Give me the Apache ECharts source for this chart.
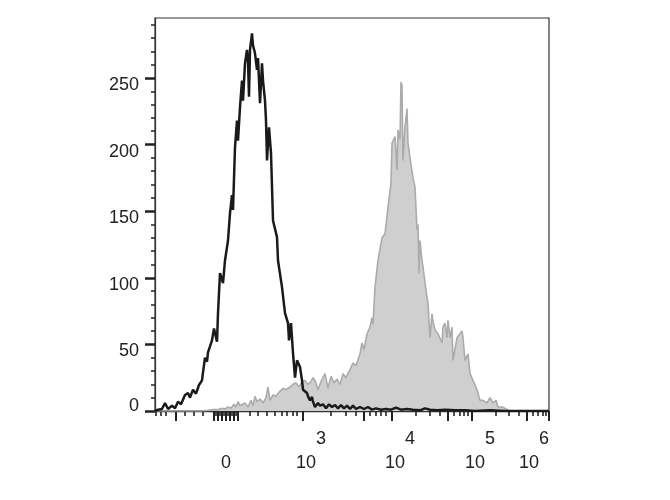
<!DOCTYPE html>
<html>
<head>
<meta charset="utf-8">
<script src="https://cdn.jsdelivr.net/npm/echarts@6/dist/echarts.min.js"></script>
<style>html,body{margin:0;padding:0;background:#fff}#c{width:670px;height:500px}</style>
</head>
<body>
<div id="c"></div>
<script>
// Channel positions (display scale units, 0..394) and event counts
const ctrlX = [0,3,7,10,13,17,20,23,26,30,33,35,38,41,44,47,48,50,52,53,57,59,62,63,65,66.5,68,70,73,75,77,78,80,82,83,85,87,88,90,92,93,94,95,97,98,100,102,103,105,107,108,110,111,112,114,116,118,120,122,123,127,130,133,134,136,138,140,142,143,145,147,148,150,152,153,155,157,158,160,163,165,168,171,174,177,180,183,186,189,192,195,198,201,205,209,213,217,221,226,231,236,241,246,252,258,265,270,275,282,290,300,310,320,335,350,394];
const ctrlY = [0,1,1.5,6,1.5,4,2,7,5,12,13.5,10,16,13,19.5,23,29,40,37,44,53,62,52,73.5,103.5,100,96,113,128,148.5,162,151,198,218,203,228,248,233,261,271,263,236,271,283.5,274.5,268.5,256,265,231,261,248,233,218,188,213,193.5,143,142,130.5,113,93,73.5,66,53,66,43.5,25,38,37,33,23,16,17,13.5,11,8,10.5,7,3,6,4,5,2,5,3,4.5,2,4.5,2,4,1.5,4,1.5,3,1.5,3,1,2,1,1.5,1,2.5,1,1.5,1,0.5,2,1,0.5,1,0.5,0.5,0,0.5,0,0];

const stainX = [0,45,53,58,63,67,70,73,76,79,81,83,85,87,90,93,96,98,100,102,105,108,111,113,115,118,121,124,128,131,135,138,141,144,147,150,153,156,158,160,163,166,170,173,176,179,182,185,188,191,195,198,201,205,207,209,212,215,217,218,220,223,227,230,233,236,237,240,242,243,245,246,247,248,250,252,253,255,258,260,262,263,264,265,267,268,272,273,275,277,278,280,283,287,288,290,292,293,295,297,298,302,305,307,308,310,313,315,318,322,325,328,332,335,338,341,343,347,350,355,394];
const stainY = [0,0,0.5,1,1,2,1.5,3,2,5,3,7,4,3,6,3,8,4,11,7,9,6,10,18,8,12,11,14,17,16,18,20,21,18,22,23,20,22,25,23,16,22,28,17,26,21,24,20,28,25,31,36,34,43,51,46,58,63,70,65,93,113,130,133,153,171,201,206,181,211,204,247,244,188,213,227,201,190,175,168,136,140,103,128,113,108,85,81,55,73,67,61,58,51,63,66,55,68,55,63,38,55,58,60,55,38,43,28,23,16,8,8,6,10,6,8,3,3,2,0,0];

// Axis ticks and labels
const xMajorTicks = [21,59,63,67,71,75,79,83,148,208.5,237,293,317,371.5,394];
const xMinorTicks = [1,6,11,30,39,48,61,65,69,73,77,81,95,103,112,120,127,132,138,142,176,191,201,215,220.5,226,230.5,261,275,285,299,305,309,313,340.5,354,364,378,383,387.5,391];
const xLabelPos = [71,148,237,317,394];
const xLabelExp = ['0','3','4','5','6'];
const yMajor = [0,50,100,150,200,250];
const yMinor = [10,20,30,40,60,70,80,90,110,120,130,140,160,170,180,190,210,220,230,240,260,270,280,290];

const X_MAX = 394, Y_MAX = 295;
const FONT = 'Liberation Sans, Arial, sans-serif';

const zip = (a, b) => a.map((v, i) => [v, b[i]]);

const chart = echarts.init(document.getElementById('c'), null, {renderer: 'canvas'});

function xLabelFmt(v) {
  const i = xLabelPos.findIndex(p => Math.abs(p - v) < 0.01);
  if (i < 0) return '';
  const e = xLabelExp[i];
  if (i === 0) return '{z|0}';
  if (i === xLabelPos.length - 1) return '{bl|10}{sr|' + e + '}';
  return '{b|10}{s|' + e + '}';
}

const supStyle = {fontSize: 18, fontFamily: FONT, color: '#222', verticalAlign: 'top', padding: [0,0,24,0]};
const baseStyle = {fontSize: 18, fontFamily: FONT, color: '#222', verticalAlign: 'bottom'};

chart.setOption({
  animation: false,
  grid: {left: 155, right: 121, top: 18, bottom: 89, show: true, borderColor: '#333', borderWidth: 1.2, backgroundColor: 'transparent'},
  xAxis: [
    {type: 'value', min: 0, max: X_MAX, position: 'bottom', offset: 0,
     axisLine: {show: true, lineStyle: {color: '#333', width: 1.4}},
     axisTick: {show: false}, axisLabel: {show: false}, splitLine: {show: false}},
    {type: 'value', min: 0, max: X_MAX, position: 'bottom', offset: 0,
     axisLine: {show: false},
     axisTick: {show: true, customValues: xMajorTicks, length: 10, lineStyle: {color: '#222', width: 2}},
     axisLabel: {show: true, customValues: xLabelPos, margin: 19, formatter: xLabelFmt,
       rich: {
         z: Object.assign({}, baseStyle, {padding: [24,0,0,0]}),
         b: Object.assign({}, baseStyle, {padding: [0,0,0,16]}),
         s: supStyle,
         bl: baseStyle,
         sr: Object.assign({}, supStyle, {padding: [0,30,24,0]})
       }},
     splitLine: {show: false}},
    {type: 'value', min: 0, max: X_MAX, position: 'bottom', offset: 0,
     axisLine: {show: false},
     axisTick: {show: true, customValues: xMinorTicks, length: 5, lineStyle: {color: '#222', width: 1.6}},
     axisLabel: {show: false}, splitLine: {show: false}}
  ],
  yAxis: [
    {type: 'value', min: 0, max: Y_MAX, position: 'left', offset: 0,
     axisLine: {show: true, lineStyle: {color: '#333', width: 1.2}},
     axisTick: {show: true, customValues: yMajor, length: 10, lineStyle: {color: '#222', width: 2.5}},
     axisLabel: {show: true, customValues: yMajor, margin: 16,
       formatter: v => v === 0 ? '{z|0}' : '{n|' + v + '}',
       rich: {
         n: {fontSize: 18, fontFamily: FONT, color: '#222', padding: [14,0,0,0]},
         z: {fontSize: 18, fontFamily: FONT, color: '#222', padding: [0,0,10,0]}
       }},
     splitLine: {show: false}},
    {type: 'value', min: 0, max: Y_MAX, position: 'left', offset: 0,
     axisLine: {show: false},
     axisTick: {show: true, customValues: yMinor, length: 4, lineStyle: {color: '#222', width: 1.5}},
     axisLabel: {show: false}, splitLine: {show: false}}
  ],
  series: [
    {type: 'line', name: 'Stained', data: zip(stainX, stainY), symbol: 'none', z: 2,
     lineStyle: {color: '#ababab', width: 1.6}, areaStyle: {color: '#cfcfcf', opacity: 1}},
    {type: 'line', name: 'Control', data: zip(ctrlX, ctrlY), symbol: 'none', z: 3,
     lineStyle: {color: '#1a1a1a', width: 2.5}}
  ]
});
</script>
</body>
</html>
